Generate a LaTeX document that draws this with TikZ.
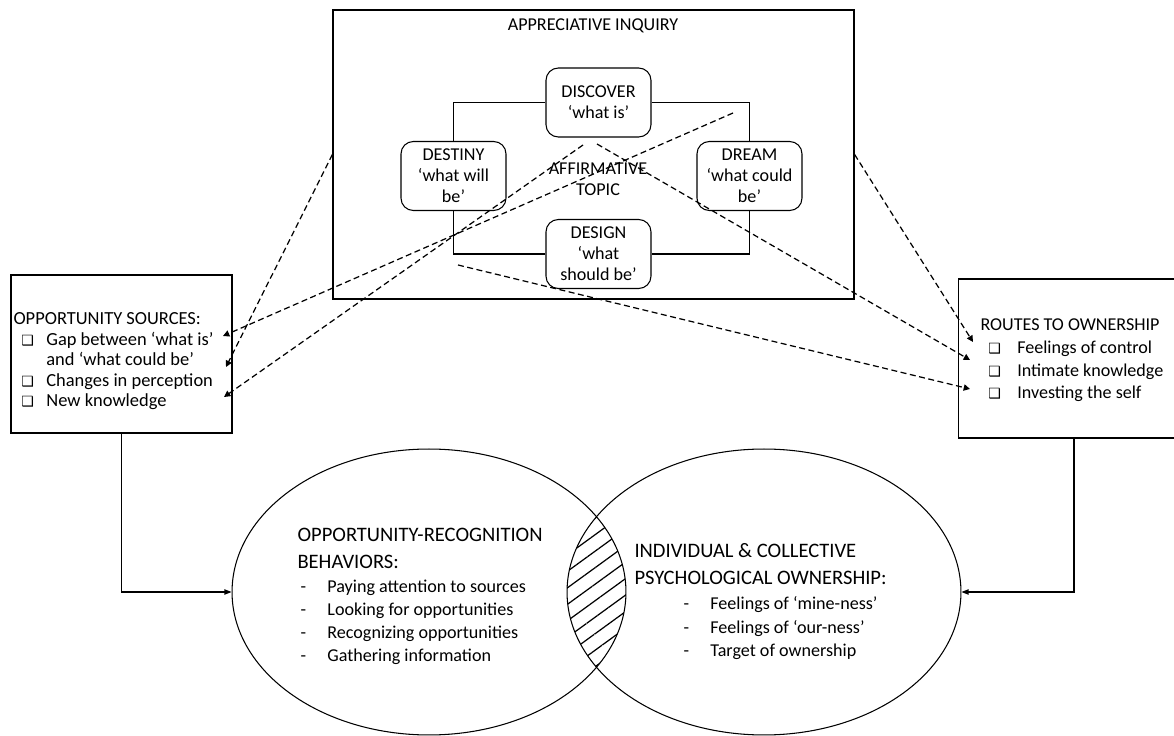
\documentclass[tikz,border=0pt]{standalone}
\usepackage{fontspec}
\setmainfont{Carlito}
\newfontfamily\boxsym{DejaVu Sans}
\usetikzlibrary{arrows.meta,shapes.geometric,patterns.meta,positioning}

\newcommand{\tick}{{\boxsym\bfseries\fontsize{8}{8}\selectfont ❑}}

\begin{document}
\begin{tikzpicture}[x=0.02cm, y=-0.02cm, line width=0.6pt,
  font=\fontsize{10.3}{11.9}\selectfont,
  stage/.style={draw, rounded corners=7pt, fill=white, align=center,
    minimum width=2.1cm, minimum height=1.38cm, inner sep=0pt},
  panel/.style={draw, line width=0.75pt, inner sep=0pt},
  lens/.style={ellipse, draw, minimum width=7.88cm, minimum height=5.72cm, inner sep=0pt},
  listing/.style={anchor=base west, inner sep=0pt},
  cue/.style={dash pattern=on 3.4pt off 2pt, line width=0.7pt,
    -{Triangle[length=3.6pt,width=3.6pt]}},
  feed/.style={-{Triangle[length=4pt,width=3pt]}}]
\useasboundingbox (0,0) rectangle (1174,736);

% appreciative inquiry cycle
\node[panel, minimum width=10.42cm, minimum height=5.78cm] (ai) at (593.5,154.5) {};
\node (aititle) at (593,26) {APPRECIATIVE INQUIRY};
\node[stage] (discover) at (598.5,102.5) {DISCOVER\\‘what is’};
\node[stage] (dream) at (749.5,176) {DREAM\\‘what could\\be’};
\node[stage] (design) at (598.5,254) {DESIGN\\‘what\\should be’};
\node[stage] (destiny) at (453.5,176) {DESTINY\\‘what will\\be’};
\draw (destiny) |- (discover) -| (dream) |- (design) -| (destiny);
\node[align=center] (topic) at (598,179) {AFFIRMATIVE\\TOPIC};

% side boxes
\node[panel, minimum width=4.42cm, minimum height=3.16cm] (sources) at (121.5,354) {};
\node[listing, font=\fontsize{10.5}{11.6}\selectfont] (srclist) at (13,325)
  {\begin{tabular}[t]{@{\hspace{4.5pt}}p{14.2pt}@{}l@{}}
   \multicolumn{2}{@{}l@{}}{OPPORTUNITY SOURCES:}\\
   \tick & Gap between ‘what is’\\
         & and ‘what could be’\\
   \tick & Changes in perception\\
   \tick & New knowledge
   \end{tabular}};

\node[panel, minimum width=4.5cm, minimum height=3.18cm] (routes) at (1071,358.5) {};
\node[listing, font=\fontsize{10.3}{12.9}\selectfont] (routelist) at (980,331)
  {\begin{tabular}[t]{@{\hspace{4.5pt}}p{16.4pt}@{}l@{}}
   \multicolumn{2}{@{}l@{}}{ROUTES TO OWNERSHIP}\\
   \tick & Feelings of control\\
   \tick & Intimate knowledge\\
   \tick & Investing the self
   \end{tabular}};

% dashed links
\coordinate (gapin) at (223,336);
\coordinate (chgin) at (226,367);
\coordinate (newin) at (224,397);
\coordinate (ctlin) at (973,342);
\coordinate (knwin) at (970,360);
\coordinate (invin) at (970,389);
\coordinate (dreamcue) at (733,113);
\coordinate (discleft) at (583,145);
\coordinate (discright) at (597,144);
\coordinate (destcue) at (458,265);
\draw[cue] (dreamcue) -- (gapin);
\draw[cue] (discleft) -- (newin);
\draw[cue] (ai.west) -- (chgin);
\draw[cue] (ai.east) -- (ctlin);
\draw[cue] (discright) -- (knwin);
\draw[cue] (destcue) -- (invin);

% venn
\node[lens] (orb) at (429,592) {};
\node[lens] (own) at (764,592) {};
\begin{scope}
\clip (429,592) ellipse [x radius=3.94cm, y radius=2.86cm];
\fill[pattern={Lines[angle=36,distance=7.6pt,line width=0.7pt]}]
  (764,592) ellipse [x radius=3.94cm, y radius=2.86cm];
\end{scope}

\node[listing, font=\fontsize{11.7}{15.9}\selectfont] (orbhead) at (297,541)
  {\begin{tabular}[t]{@{}l@{}}OPPORTUNITY-RECOGNITION\\BEHAVIORS:\end{tabular}};
\node[listing, font=\fontsize{10.3}{13}\selectfont] (orblist) at (300,593)
  {\begin{tabular}[t]{@{}p{15.3pt}@{}l@{}}
   - & Paying attention to sources\\
   - & Looking for opportunities\\
   - & Recognizing opportunities\\
   - & Gathering information
   \end{tabular}};

\node[listing, font=\fontsize{11.7}{15.3}\selectfont] (ownhead) at (634,558)
  {\begin{tabular}[t]{@{}l@{}}INDIVIDUAL \& COLLECTIVE\\PSYCHOLOGICAL OWNERSHIP:\end{tabular}};
\node[listing, font=\fontsize{10.3}{13.3}\selectfont] (ownlist) at (683,610)
  {\begin{tabular}[t]{@{}p{15.3pt}@{}l@{}}
   - & Feelings of ‘mine-ness’\\
   - & Feelings of ‘our-ness’\\
   - & Target of ownership
   \end{tabular}};

% feeding arrows
\coordinate (routedrop) at (1074,438);
\draw[feed] (sources.south) |- (orb.west);
\draw[feed] (routedrop) |- (own.east);
\end{tikzpicture}
\end{document}
